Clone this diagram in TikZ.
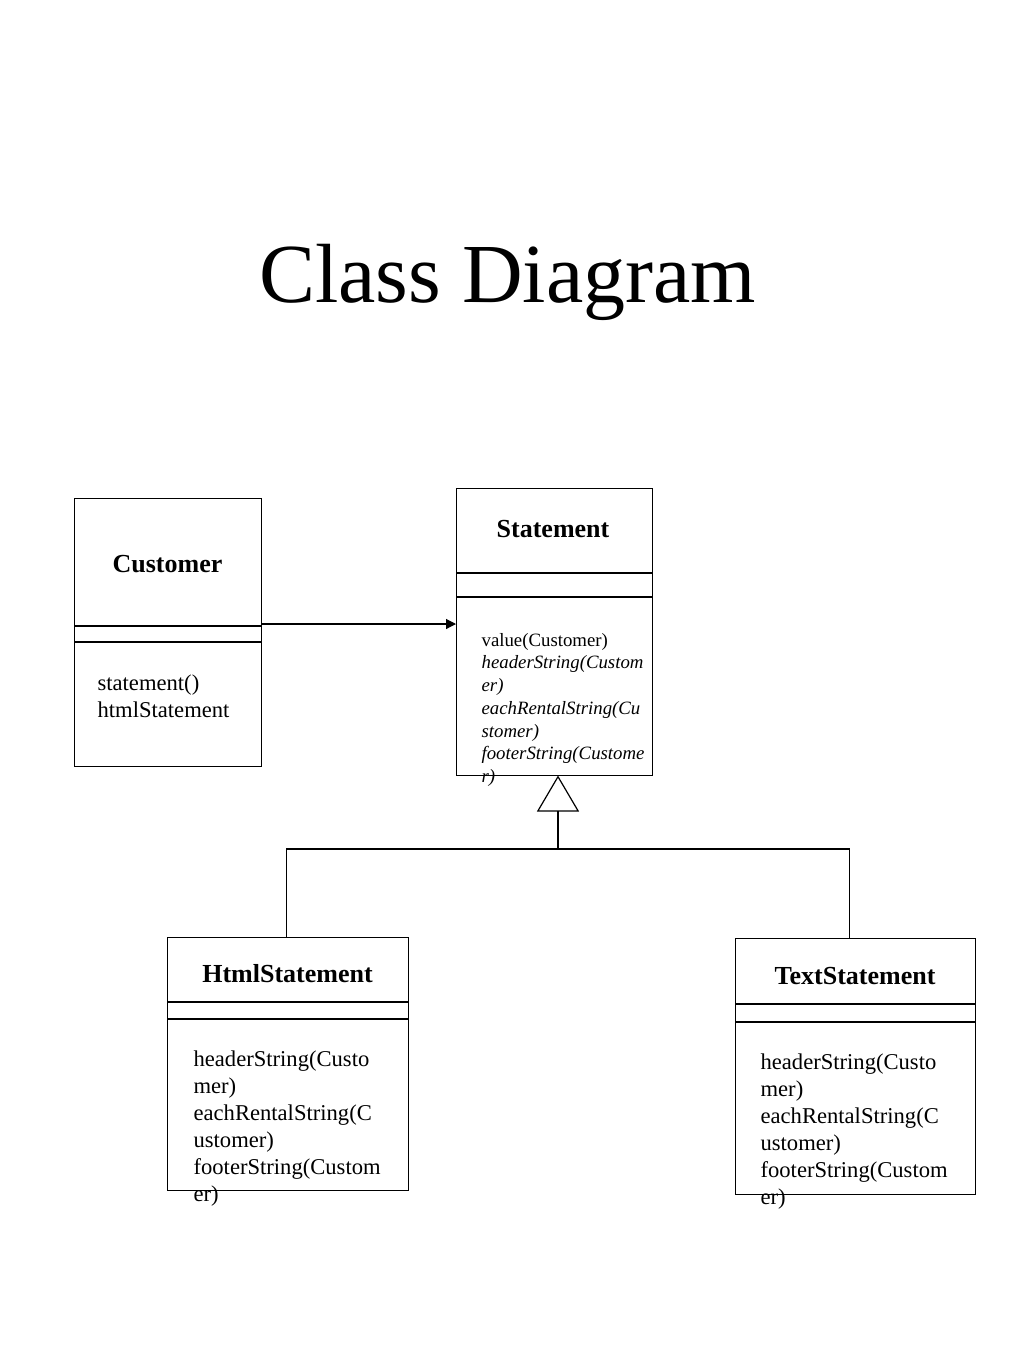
\documentclass[tikz,border=0pt]{standalone}
\usepackage{fontspec}
\setmainfont{Liberation Serif}
\usetikzlibrary{arrows.meta}
\begin{document}
\begin{tikzpicture}[x=1pt,y=-1pt,
  line width=1.2pt,
  classbox/.style={draw, rectangle, inner sep=0pt, anchor=north west},
  cname/.style={font=\fontsize{26}{30}\selectfont\bfseries, anchor=base, inner sep=0pt},
  methods/.style={font=\fontsize{22.6}{27}\selectfont, align=left, anchor=base west, inner sep=0pt},
  smethods/.style={font=\fontsize{18.8}{22.75}\selectfont, align=left, anchor=base west, inner sep=0pt},
  assoc/.style={-{Triangle[length=10pt,width=10pt]}},
  general/.style={-{Triangle[open,length=36pt,width=42pt]}}
]
\useasboundingbox[fill=white] (0,0) rectangle (1024,1365);

\node[font=\fontsize{84}{96}\selectfont, anchor=base, inner sep=0pt] (title) at (507.5,302) {Class Diagram};

% Customer
\node[classbox, minimum width=187pt, minimum height=268pt] (cust) at (74,498) {};
\draw (cust.west |- 0,626) -- (cust.east |- 0,626);
\draw (cust.west |- 0,642) -- (cust.east |- 0,642);
\node[cname] (custname) at (167.5,572) {Customer};
\node[methods] (custm) at (97,717) {statement()\\htmlStatement};

% Statement
\node[classbox, minimum width=196pt, minimum height=287pt] (stmt) at (456,488) {};
\draw (stmt.west |- 0,573) -- (stmt.east |- 0,573);
\draw (stmt.west |- 0,597) -- (stmt.east |- 0,597);
\node[cname] (stmtname) at (553,537) {Statement};
\node[smethods] (stmtm) at (481,782.5) {value(Customer)\\\itshape headerString(Custom\\\itshape er)\\\itshape eachRentalString(Cu\\\itshape stomer)\\\itshape footerString(Custome\\\itshape r)};

% HtmlStatement
\node[classbox, minimum width=241pt, minimum height=253pt] (html) at (167,937) {};
\draw (html.west |- 0,1002) -- (html.east |- 0,1002);
\draw (html.west |- 0,1019) -- (html.east |- 0,1019);
\node[cname] (htmlname) at (287.5,982) {HtmlStatement};
\node[methods] (htmlm) at (193,1201) {headerString(Custo\\mer)\\eachRentalString(C\\ustomer)\\footerString(Custom\\er)};

% TextStatement
\node[classbox, minimum width=240pt, minimum height=256pt] (txt) at (735,938) {};
\draw (txt.west |- 0,1004) -- (txt.east |- 0,1004);
\draw (txt.west |- 0,1022) -- (txt.east |- 0,1022);
\node[cname] (txtname) at (855,984) {TextStatement};
\node[methods] (txtm) at (760,1204) {headerString(Custo\\mer)\\eachRentalString(C\\ustomer)\\footerString(Custom\\er)};

% association
\draw[assoc] (cust.east |- 0,624) -- (stmt.west |- 0,624);

% generalization
\coordinate (apex) at (558,775.5);
\coordinate (junc) at (558,849);
\draw[general] (junc) -- (apex);
\draw (junc) -| ([xshift=-1.5pt]html.north);
\draw (junc) -| ([xshift=-6pt]txt.north);
\end{tikzpicture}
\end{document}
